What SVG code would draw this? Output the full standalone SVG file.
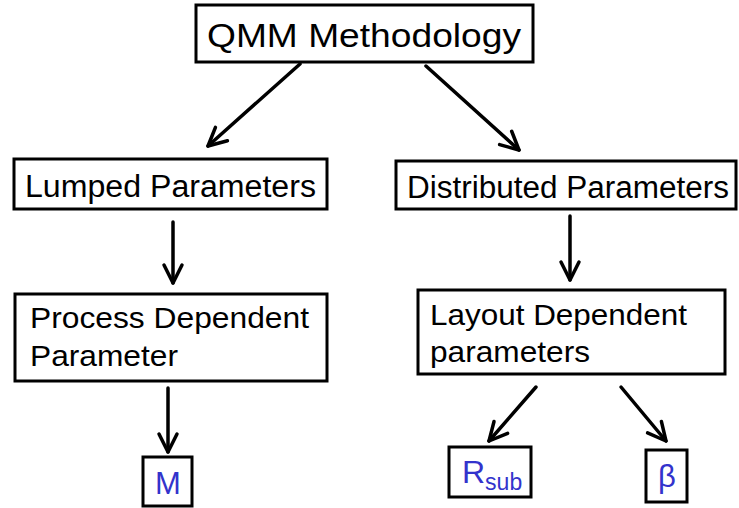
<svg xmlns="http://www.w3.org/2000/svg" width="739" height="508" viewBox="0 0 739 508">
<defs>
<style>
.box{fill:#fff;stroke:#000;stroke-width:3}
.t{font-family:"Liberation Sans",Arial,sans-serif;fill:#000}
.b{font-family:"Liberation Sans",Arial,sans-serif;fill:#3333cc}
.c{fill:none;stroke:#000;stroke-width:3.5;stroke-linecap:round}
</style>
<marker id="ah" viewBox="0 0 24 24" refX="21" refY="12" markerWidth="24" markerHeight="24" markerUnits="userSpaceOnUse" orient="auto">
<path d="M3,3 L21,12 L3,21" fill="none" stroke="#000" stroke-width="3.5" stroke-linecap="round" stroke-linejoin="round"/>
</marker>
</defs>
<rect width="739" height="508" fill="#fff"/>
<g id="connectors">
<path class="c" d="M300,64 L208,146" marker-end="url(#ah)"/>
<path class="c" d="M426,66 L519,150" marker-end="url(#ah)"/>
<path class="c" d="M173,222 L173,283" marker-end="url(#ah)"/>
<path class="c" d="M570,216 L570,280" marker-end="url(#ah)"/>
<path class="c" d="M168,388 L168,452" marker-end="url(#ah)"/>
<path class="c" d="M536,387 L489,441" marker-end="url(#ah)"/>
<path class="c" d="M621,387 L666,441" marker-end="url(#ah)"/>
</g>
<g id="qmm">
<rect class="box" x="196" y="5" width="337" height="57"/>
<text class="t" x="207" y="47" font-size="34" textLength="314" lengthAdjust="spacingAndGlyphs">QMM Methodology</text>
</g>
<g id="lumped">
<rect class="box" x="14" y="159" width="313" height="50"/>
<text class="t" x="25" y="197" font-size="31" textLength="291" lengthAdjust="spacingAndGlyphs">Lumped Parameters</text>
</g>
<g id="distributed">
<rect class="box" x="396" y="161" width="340" height="48"/>
<text class="t" x="407" y="198" font-size="31" textLength="322" lengthAdjust="spacingAndGlyphs">Distributed Parameters</text>
</g>
<g id="process">
<rect class="box" x="15" y="294" width="312" height="87"/>
<text class="t" x="30" y="328" font-size="29" textLength="279" lengthAdjust="spacingAndGlyphs">Process Dependent</text>
<text class="t" x="30" y="366" font-size="29" textLength="148" lengthAdjust="spacingAndGlyphs">Parameter</text>
</g>
<g id="layout">
<rect class="box" x="418" y="290" width="307" height="84"/>
<text class="t" x="430" y="325" font-size="30" textLength="257" lengthAdjust="spacingAndGlyphs">Layout Dependent</text>
<text class="t" x="430" y="362" font-size="30" textLength="160" lengthAdjust="spacingAndGlyphs">parameters</text>
</g>
<g id="m">
<rect class="box" x="143" y="457" width="49" height="49"/>
<text class="b" x="168" y="494" font-size="31" text-anchor="middle">M</text>
</g>
<g id="rsub">
<rect class="box" x="449" y="447" width="82" height="50"/>
<text class="b" x="462" y="483" font-size="32">R<tspan font-size="23" dy="7">sub</tspan></text>
</g>
<g id="beta">
<rect class="box" x="646" y="450" width="41" height="52"/>
<text class="b" x="667" y="487" font-size="31" text-anchor="middle">β</text>
</g>
</svg>
